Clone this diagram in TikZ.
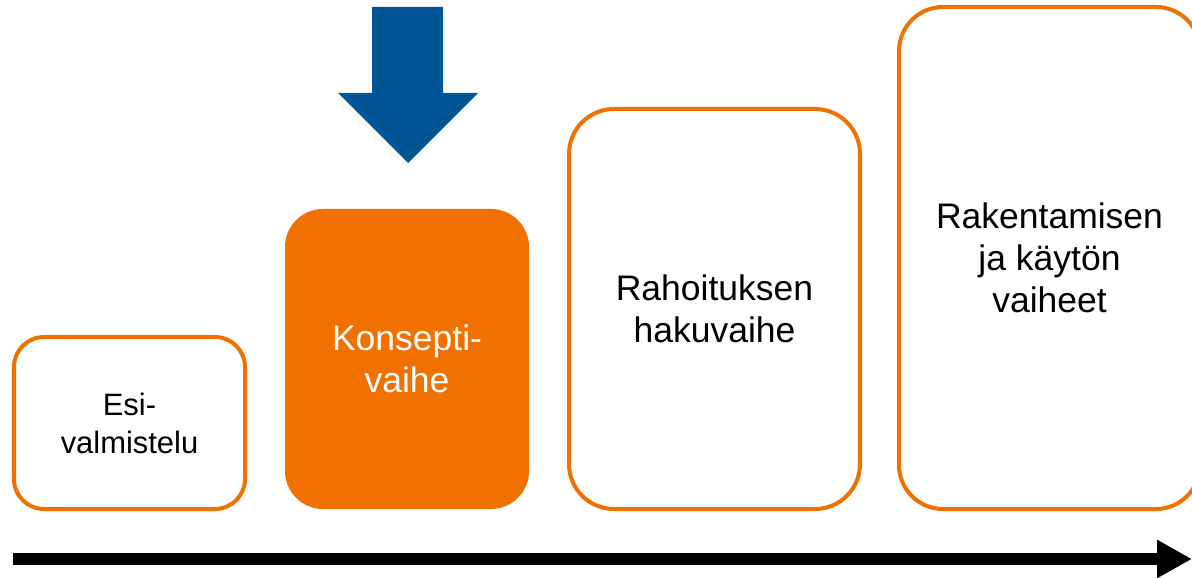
\documentclass[tikz,border=0pt]{standalone}
\usepackage{fontspec}
\setmainfont{Liberation Sans}
\usetikzlibrary{arrows.meta}
\definecolor{phaseorange}{RGB}{240,112,0}
\definecolor{markerblue}{RGB}{0,85,148}
\tikzset{
  phase/.style={draw=phaseorange, line width=0.08cm, fill=white, align=center,
    inner sep=0pt, outer sep=0pt, font=\fontsize{20.2}{23.9}\selectfont},
  current/.style={phase, draw=none, fill=phaseorange, text=white},
  timeline/.style={line width=0.24cm, -{Triangle[length=0.7cm, width=0.72cm]}}
}

\begin{document}
\begin{tikzpicture}
			%%%%% START %%%%%
			\useasboundingbox (0, 0) rectangle (23.84, 11.54);
			\clip (0, 0) rectangle (23.84, 11.54);
			
			\node[phase, minimum width=4.62cm, minimum height=3.44cm, rounded corners=0.6cm,
			  font=\fontsize{17.6}{21.6}\selectfont] (esi) at (2.59, 3.08) {Esi-\\valmistelu};
			\node[current, minimum width=4.88cm, minimum height=6.0cm, rounded corners=0.76cm] (konsepti) at (8.14, 4.36) {Konsepti-\\vaihe};
			\node[phase, minimum width=5.82cm, minimum height=8.0cm, rounded corners=0.9cm] (rahoitus) at (14.29, 5.36) {Rahoituksen\\hakuvaihe};
			\node[phase, minimum width=6.02cm, minimum height=10.04cm, rounded corners=0.88cm] (rakentaminen) at (20.99, 6.38) {Rakentamisen\\ja käytön\\vaiheet};
			
			\fill[markerblue] (7.44, 11.4) -- (8.86, 11.4) -- (8.86, 9.68) -- (9.56, 9.68)
			  -- (8.16, 8.28) -- (6.76, 9.68) -- (7.44, 9.68) -- cycle;
			
			\coordinate (start) at (0.26, 0.36);
			\coordinate (end) at (23.84, 0.36);
			\draw[timeline] (start) -- (end);
			%%%%% END %%%%%
\end{tikzpicture}
\end{document}
